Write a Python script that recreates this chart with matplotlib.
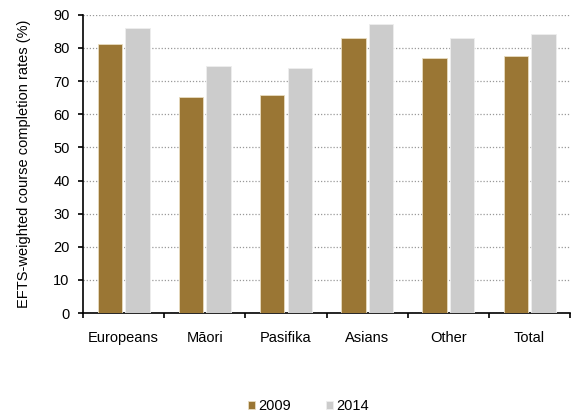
import matplotlib
matplotlib.use("Agg")
import matplotlib.pyplot as plt
import numpy as np

categories = ["Europeans", "Māori", "Pasifika", "Asians", "Other", "Total"]
years = ["2009", "2014"]
vals_2009 = [81.3, 65.2, 65.8, 83.0, 77.0, 77.6]
vals_2014 = [85.9, 74.6, 74.0, 87.2, 83.0, 84.2]
yticks = [0, 10, 20, 30, 40, 50, 60, 70, 80, 90]

plt.rcParams['font.family'] = ['Liberation Sans', 'DejaVu Sans']

fig = plt.figure(figsize=(5.76, 4.12), dpi=100)
ax = fig.add_axes([0.144, 0.240, 0.846, 0.724])

x = np.arange(len(categories))
w = 0.30
off = 0.17
ax.bar(x - off, vals_2009, w, color="#9A7634", edgecolor="#E8DCC0", linewidth=0.6, label=years[0], zorder=3)
ax.bar(x + off, vals_2014, w, color="#CCCCCC", edgecolor="#EEEEEE", linewidth=0.6, label=years[1], zorder=3)

ax.set_xlim(-0.5, len(categories) - 0.5)
ax.set_ylim(0, 90)
ax.set_yticks(yticks)
ax.set_xticks(x)
ax.set_xticklabels(categories, fontsize=10.5)
ax.set_xticks(np.arange(-0.5, len(categories)), minor=True)
ax.tick_params(axis='x', which='major', length=0, pad=13)
ax.tick_params(axis='x', which='minor', length=3.6, width=1.2, direction='out', color='black')
ax.tick_params(axis='y', length=3.6, width=1.2, direction='out', labelsize=10.5, pad=6)
ax.grid(axis='y', linestyle=(0, (1, 1.5)), color='#999999', linewidth=0.9, zorder=0)
ax.set_axisbelow(True)
for s in ['top', 'right']:
    ax.spines[s].set_visible(False)
ax.spines['left'].set_linewidth(1.2)
ax.spines['bottom'].set_linewidth(1.2)
ax.set_ylabel("EFTS-weighted course completion rates (%)", fontsize=10.5, labelpad=16)

fig.legend(loc='lower center', bbox_to_anchor=(0.535, -0.035), ncol=2, frameon=False,
           fontsize=10.5, handlelength=0.5, handleheight=0.5, handletextpad=0.2, columnspacing=2.4)

fig.savefig("out.png", dpi=100)
